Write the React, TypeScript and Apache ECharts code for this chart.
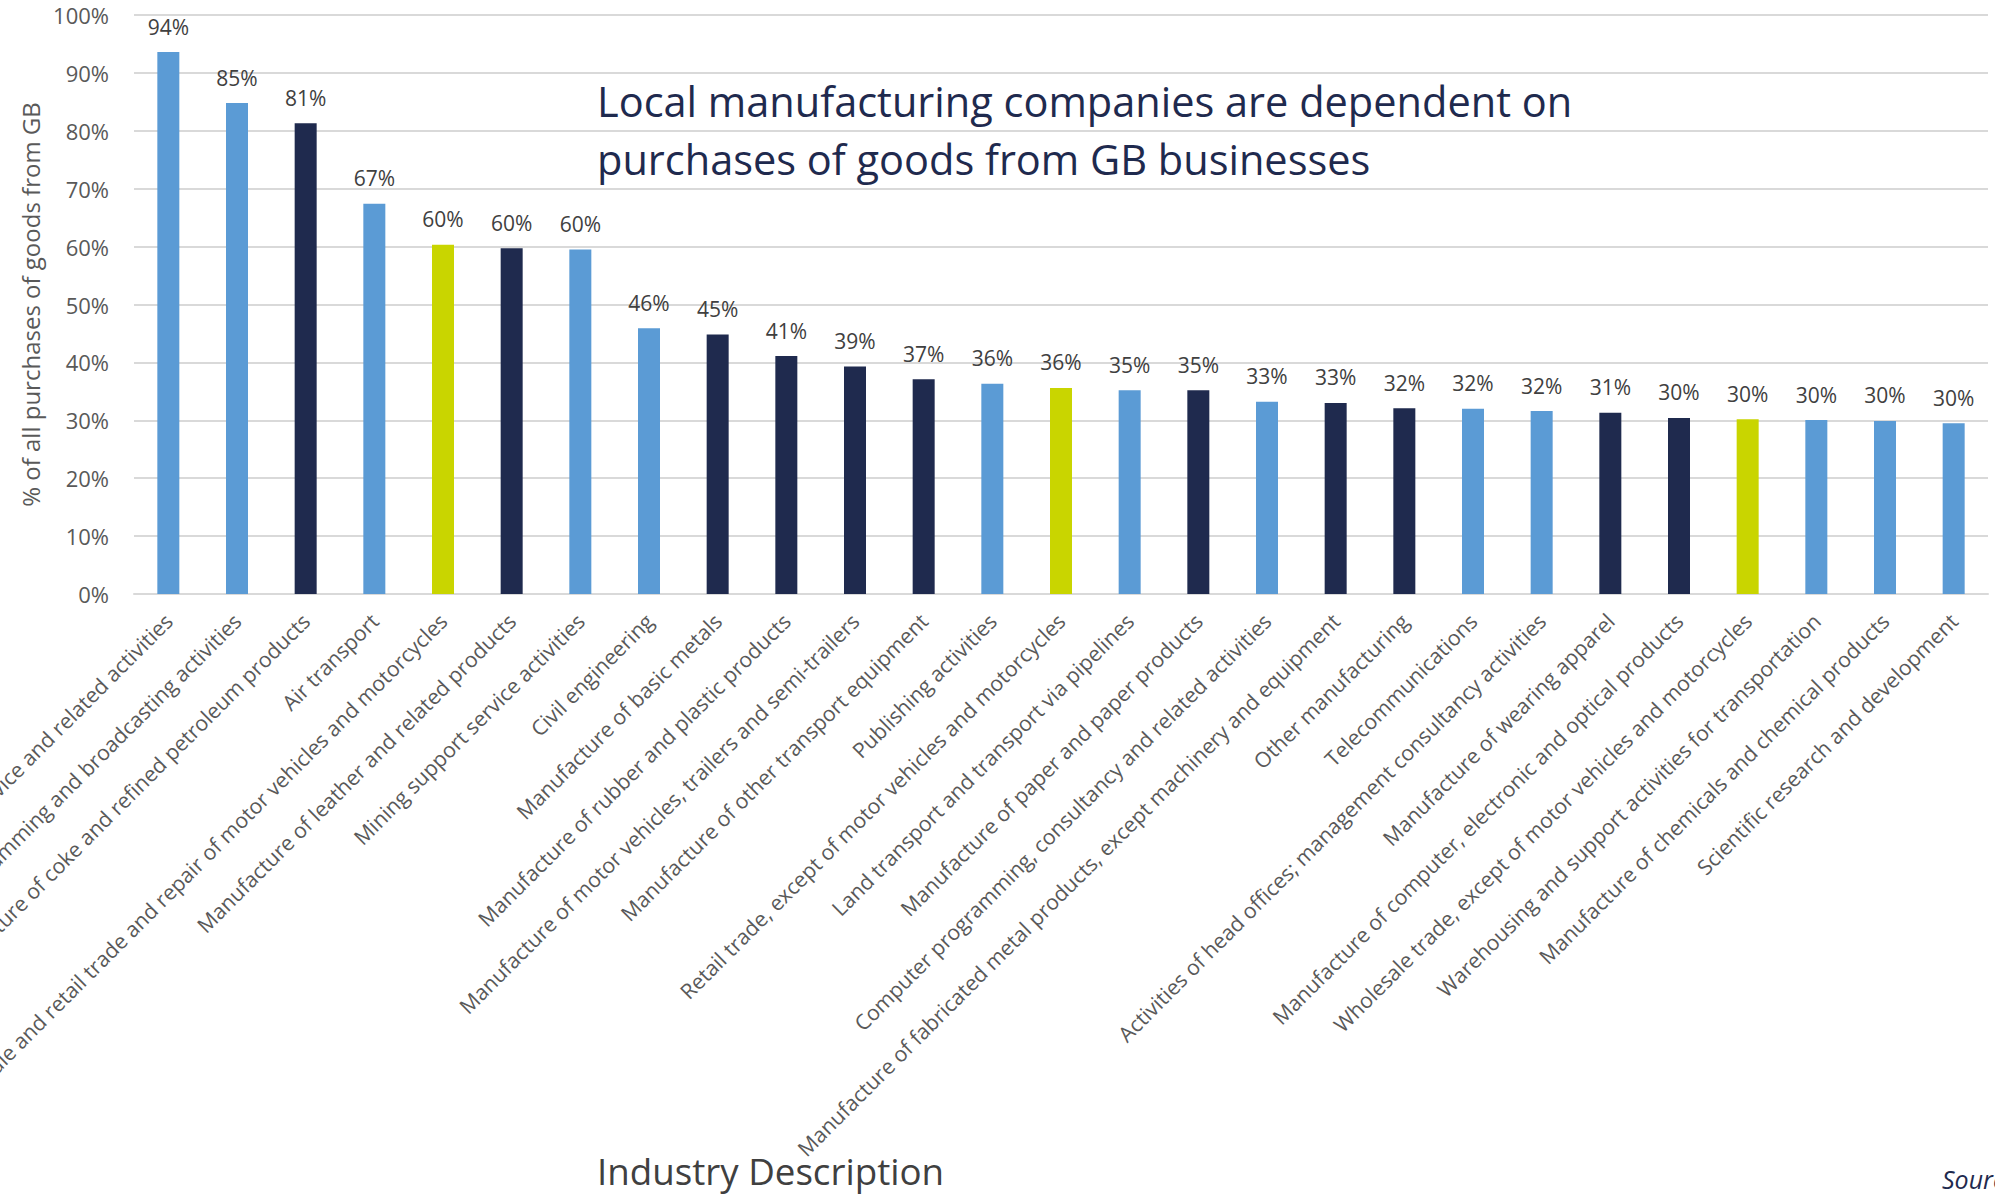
import React, { useEffect, useRef } from "react";
import * as echarts from "echarts";

const categories: string[] = [
  "Travel agency, tour operator and other reservation service and related activities",
  "Programming and broadcasting activities",
  "Manufacture of coke and refined petroleum products",
  "Air transport",
  "Wholesale and retail trade and repair of motor vehicles and motorcycles",
  "Manufacture of leather and related products",
  "Mining support service activities",
  "Civil engineering",
  "Manufacture of basic metals",
  "Manufacture of rubber and plastic products",
  "Manufacture of motor vehicles, trailers and semi-trailers",
  "Manufacture of other transport equipment",
  "Publishing activities",
  "Retail trade, except of motor vehicles and motorcycles",
  "Land transport and transport via pipelines",
  "Manufacture of paper and paper products",
  "Computer programming, consultancy and related activities",
  "Manufacture of fabricated metal products, except machinery and equipment",
  "Other manufacturing",
  "Telecommunications",
  "Activities of head offices; management consultancy activities",
  "Manufacture of wearing apparel",
  "Manufacture of computer, electronic and optical products",
  "Wholesale trade, except of motor vehicles and motorcycles",
  "Warehousing and support activities for transportation",
  "Manufacture of chemicals and chemical products",
  "Scientific research and development",
];

const values: number[] = [
  93.6, 84.8, 81.3, 67.4, 60.3, 59.7, 59.5, 45.9, 44.8, 41.1, 39.3, 37.1, 36.3, 35.6,
  35.2, 35.2, 33.2, 33.0, 32.1, 32.0, 31.6, 31.3, 30.4, 30.2, 30.05, 29.9, 29.5,
];

// group: "service" (light blue), "manufacturing" (navy), "trade" (yellow-green)
const groups: string[] = [
  "service", "service", "manufacturing", "service", "trade", "manufacturing", "service",
  "service", "manufacturing", "manufacturing", "manufacturing", "manufacturing", "service",
  "trade", "service", "manufacturing", "service", "manufacturing", "manufacturing",
  "service", "service", "manufacturing", "manufacturing", "trade", "service", "service",
  "service",
];

const groupColors: Record<string, string> = {
  service: "#5B9BD5",
  manufacturing: "#1F2A4E",
  trade: "#C9D500",
};

const yTicks: number[] = [0, 10, 20, 30, 40, 50, 60, 70, 80, 90, 100];

const titleLines: string[] = [
  "Local manufacturing companies are dependent on",
  "purchases of goods from GB businesses",
];

const FONT = "'Open Sans', 'Liberation Sans', sans-serif";

export default function App() {
  const ref = useRef<HTMLDivElement>(null);

  useEffect(() => {
    if (!ref.current) return;
    const chart = echarts.init(ref.current, undefined, { renderer: "svg" });
    chart.setOption({
      animation: false,
      backgroundColor: "#FFFFFF",
      textStyle: { fontFamily: FONT },
      title: {
        text: titleLines.join("\n"),
        left: 597,
        top: 72,
        padding: 0,
        textStyle: {
          fontFamily: FONT,
          fontSize: 41.5,
          fontWeight: "normal",
          color: "#1F2A4E",
          lineHeight: 58,
        },
      },
      grid: {
        left: 134,
        right: 7,
        top: 15,
        bottom: 600,
        containLabel: false,
        outerBoundsMode: "none",
      },
      xAxis: {
        type: "category",
        data: categories,
        axisLine: { show: true, lineStyle: { color: "#D9D9D9", width: 2 } },
        axisTick: { show: false },
        axisLabel: {
          interval: 0,
          rotate: 45,
          margin: 23,
          fontSize: 21.2,
          color: "#595959",
          fontFamily: FONT,
          hideOverlap: false,
        },
      },
      yAxis: {
        type: "value",
        min: yTicks[0],
        max: yTicks[yTicks.length - 1],
        interval: 10,
        name: "% of all purchases of goods from GB",
        nameLocation: "middle",
        nameGap: 90,
        nameTextStyle: { fontSize: 24, color: "#595959", fontFamily: FONT },
        axisLine: { show: false },
        axisTick: { show: false },
        splitLine: { lineStyle: { color: "#D9D9D9", width: 2 } },
        axisLabel: {
          margin: 25,
          fontSize: 22,
          color: "#595959",
          fontFamily: FONT,
          formatter: (v: number) => `${v}%`,
        },
      },
      series: [
        {
          type: "bar",
          barWidth: 22,
          data: values.map((v, i) => ({
            value: v,
            itemStyle: { color: groupColors[groups[i]] },
          })),
          label: {
            show: true,
            position: "top",
            distance: 15,
            fontSize: 21,
            color: "#404040",
            fontFamily: FONT,
            formatter: (p: any) => `${Math.round(p.value)}%`,
          },
        },
      ],
      graphic: [
        {
          type: "text",
          left: 597,
          top: 1152,
          style: {
            text: "Industry Description",
            fontSize: 36.7,
            fill: "#404040",
            fontFamily: FONT,
          },
        },
        {
          type: "text",
          x: 1942,
          y: 1166,
          style: {
            text: "Source",
            fontSize: 25,
            fontStyle: "italic",
            fill: "#1F2A4E",
            fontFamily: FONT,
          },
        },
      ],
    });
    return () => chart.dispose();
  }, []);

  return (
    <div
      ref={ref}
      style={{ position: "absolute", left: 0, top: 0, width: 1995, height: 1194 }}
    />
  );
}
